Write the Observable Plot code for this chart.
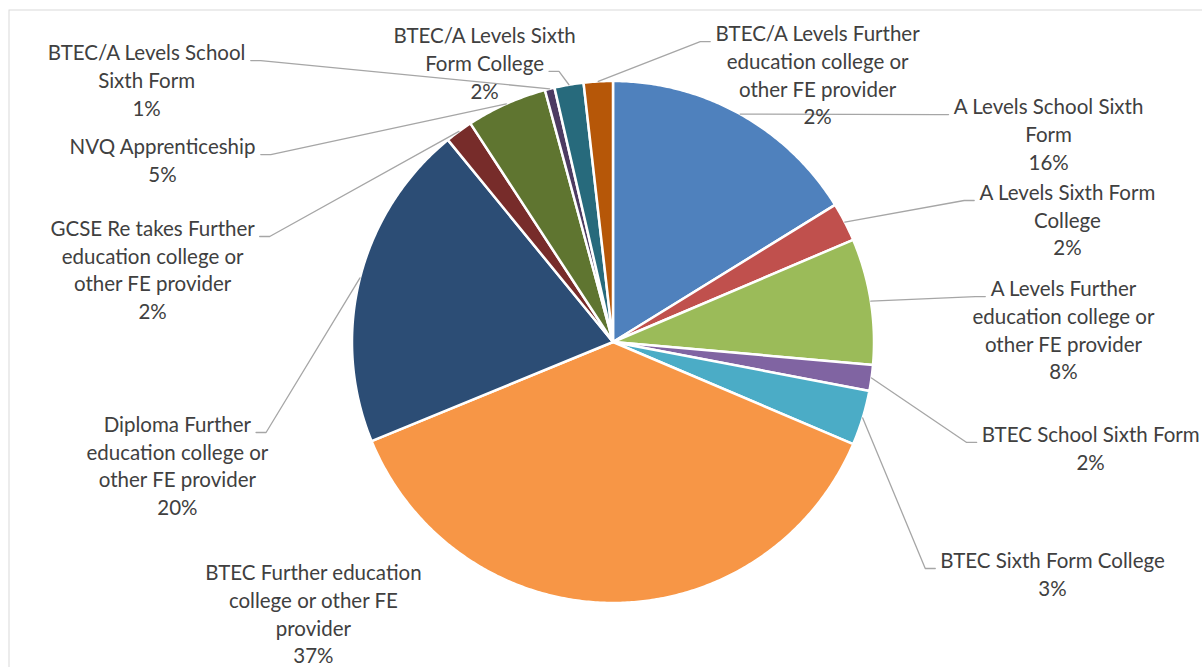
<!DOCTYPE html>
<html><head><meta charset="utf-8">
<script src="https://cdn.jsdelivr.net/npm/d3@7"></script>
<script src="https://cdn.jsdelivr.net/npm/@observablehq/plot@0.6"></script>
<style>
html,body{margin:0;padding:0;background:#fff;overflow:hidden;}
#chart svg{display:block;overflow:hidden;}
</style></head><body><div id="chart"></div>
<script>
// ---- data ----
const categories = [
  "A Levels School Sixth Form",
  "A Levels Sixth Form College",
  "A Levels Further education college or other FE provider",
  "BTEC School Sixth Form",
  "BTEC Sixth Form College",
  "BTEC Further education college or other FE provider",
  "Diploma Further education college or other FE provider",
  "GCSE Re takes Further education college or other FE provider",
  "NVQ Apprenticeship",
  "BTEC/A Levels School Sixth Form",
  "BTEC/A Levels Sixth Form College",
  "BTEC/A Levels Further education college or other FE provider"
];
const values = [16.2, 2.4, 7.8, 1.6, 3.4, 37.4, 20.3, 1.7, 5.0, 0.6, 1.8, 1.8];
const colors = ["#4F81BD","#C0504D","#9BBB59","#8064A2","#4BACC6","#F79646",
                "#2C4D75","#772C2A","#5F7530","#4D3B62","#276A7C","#B65708"];
const labelLines = [
  ["A Levels School Sixth", "Form"],
  ["A Levels Sixth Form", "College"],
  ["A Levels Further", "education college or", "other FE provider"],
  ["BTEC School Sixth Form"],
  ["BTEC Sixth Form College"],
  ["BTEC Further education", "college or other FE", "provider"],
  ["Diploma Further", "education college or", "other FE provider"],
  ["GCSE Re takes Further", "education college or", "other FE provider"],
  ["NVQ Apprenticeship"],
  ["BTEC/A Levels School", "Sixth Form"],
  ["BTEC/A Levels Sixth", "Form College"],
  ["BTEC/A Levels Further", "education college or", "other FE provider"]
];

// ---- layout (label placement, in pie-radius units relative to the pie centre) ----
const labelX = [1.669, 1.741, 1.726, 1.830, 1.684, -1.148, -1.669, -1.764, -1.726, -1.787, -0.492, 0.784];
const labelY = [0.898, 0.569, 0.201, -0.358, -0.841, -0.888, -0.320, 0.431, 0.745, 1.105, 1.170, 1.178];
const attachLine = [0, 0, 0, 0, 0, null, 0, 0, 0, 0, 1, 0];

const W = 1202, H = 667;
const CX = 612.5, CY = 341.5, R = 261;
const FS = 20.5, FONT = "Lato";
const LH = 27.7 / R;          // line height in radius units
const px = v => v / R;

// ---- geometry ----
const total = d3.sum(values);
const arcs = d3.pie().sort(null).value(d => d)(values);
const slicePts = [];
arcs.forEach((a, i) => {
  const n = Math.max(2, Math.ceil((a.endAngle - a.startAngle) / (Math.PI / 360)));
  slicePts.push({cat: categories[i], x: 0, y: 0});
  for (let k = 0; k <= n; k++) {
    const t = a.startAngle + (a.endAngle - a.startAngle) * k / n;
    slicePts.push({cat: categories[i], x: Math.sin(t), y: Math.cos(t)});
  }
  slicePts.push({cat: categories[i], x: 0, y: 0});
});

const pct = values.map(v => Math.round(v / total * 100) + "%");

const textRows = [];
categories.forEach((c, i) => {
  [...labelLines[i], pct[i]].forEach((s, k) => {
    textRows.push({text: s, x: labelX[i], y: labelY[i] - k * LH});
  });
});

const ctx = document.createElement("canvas").getContext("2d");
ctx.font = `${FS}px ${FONT}`;
const leaderPts = [];
arcs.forEach((a, i) => {
  if (attachLine[i] == null) return;
  const m = (a.startAngle + a.endAngle) / 2;
  const x0 = Math.sin(m), y0 = Math.cos(m);
  const lines = [...labelLines[i], pct[i]];
  const w = px(ctx.measureText(lines[attachLine[i]]).width);
  const dir = labelX[i] < x0 ? 1 : -1;   // label left of start => attach on its right side
  const ex = labelX[i] + dir * (w / 2 + px(5));
  const ey = labelY[i] - attachLine[i] * LH - px(7);
  const bx = ex + dir * px(10);
  leaderPts.push({cat: categories[i], x: x0, y: y0});
  leaderPts.push({cat: categories[i], x: bx, y: ey});
  leaderPts.push({cat: categories[i], x: ex, y: ey});
});

const chart = Plot.plot({
  width: W, height: H,
  marginLeft: 8.5, marginTop: 9.5, marginRight: -20, marginBottom: -20,
  style: {fontFamily: FONT, background: "white", overflow: "hidden"},
  x: {domain: [-1, 1], range: [CX - R, CX + R], axis: null},
  y: {domain: [-1, 1], range: [CY + R, CY - R], axis: null},
  color: {type: "ordinal", domain: categories, range: colors},
  marks: [
    Plot.frame({stroke: "#D9D9D9", strokeWidth: 1}),
    Plot.line(slicePts, {x: "x", y: "y", z: "cat", fill: "cat", stroke: "white",
      strokeWidth: 2.5, strokeLinejoin: "round", curve: "linear"}),
    Plot.line(leaderPts, {x: "x", y: "y", z: "cat", stroke: "#A6A6A6",
      strokeWidth: 1.3, strokeLinejoin: "miter", curve: "linear"}),
    Plot.text(textRows, {x: "x", y: "y", text: "text", fill: "#404040",
      fontSize: FS, fontFamily: FONT, textAnchor: "middle", lineAnchor: "middle"})
  ]
});
document.getElementById("chart").appendChild(chart);
</script></body></html>
